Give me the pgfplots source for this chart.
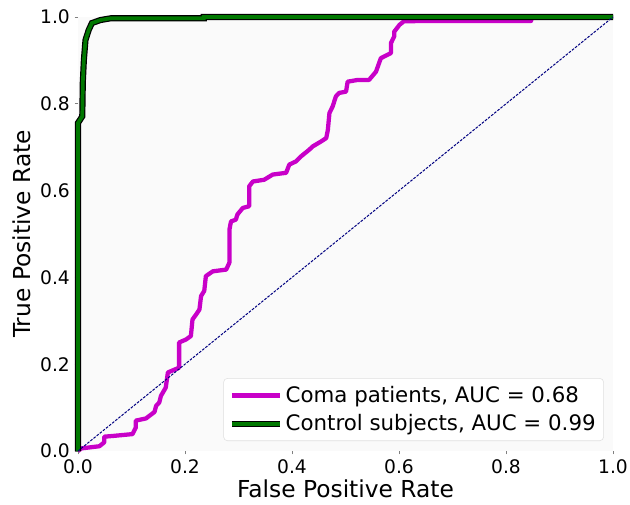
\documentclass[border=0pt]{standalone}
\usepackage{pgfplots}
\pgfplotsset{compat=1.18}
\usepackage{fontspec}
\setmainfont{DejaVu Sans}
\usetikzlibrary{calc}

\definecolor{roccoma}{RGB}{200,0,200}
\definecolor{roccontrol}{RGB}{0,120,0}
\definecolor{plotbg}{RGB}{250,250,250}
\definecolor{navy}{RGB}{0,0,128}

\begin{document}
\begin{tikzpicture}
\begin{axis}[
  name=ax,
  scale only axis,
  width=401.25pt, height=325.5pt,
  xmin=0, xmax=1, ymin=0, ymax=1,
  clip=false,
  axis background/.style={fill=plotbg},
  axis line style={draw=none},
  tick align=outside,
  tick pos=left,
  major tick length=2.6pt,
  tick style={gray, line width=0.6pt},
  xtick={0,0.2,0.4,0.6,0.8,1},
  ytick={0,0.2,0.4,0.6,0.8,1},
  /pgf/number format/assume math mode=true,
  xticklabel style={/pgf/number format/.cd, fixed, fixed zerofill, precision=1},
  yticklabel style={/pgf/number format/.cd, fixed, fixed zerofill, precision=1},
  tick label style={font=\fontsize{14}{16}\selectfont},
  xlabel={False Positive Rate},
  ylabel={True Positive Rate},
  label style={font=\fontsize{17.5}{20}\selectfont},
  xlabel style={at={(axis description cs:0.5,-0.108)}, anchor=base},
  ylabel style={at={(axis description cs:-0.1056,0.5)}, anchor=center},
  legend style={
    at={(rel axis cs:0.983,0.023)}, anchor=south east,
    font=\fontsize{16}{19}\selectfont,
    draw=gray!25, rounded corners=3pt, fill=white,
    cells={anchor=west}, row sep=3.5pt,
    inner xsep=4pt, inner ysep=4pt,
  },
  legend image code/.code={\draw[#1] (0pt,0pt) -- (36pt,0pt);},
]
% Coma patients
\addplot[roccoma, line width=3.2pt, line join=round] coordinates {
(0,0) (0.006,0.006) (0.040,0.011) (0.049,0.020) (0.049,0.033) (0.068,0.035)
(0.102,0.039) (0.108,0.054) (0.108,0.070) (0.127,0.075) (0.143,0.090)
(0.146,0.104) (0.152,0.112) (0.155,0.127) (0.164,0.146) (0.168,0.181)
(0.189,0.192) (0.189,0.250) (0.202,0.257) (0.211,0.265) (0.214,0.303)
(0.221,0.315) (0.227,0.326) (0.230,0.357) (0.236,0.369) (0.239,0.403)
(0.252,0.414) (0.277,0.418) (0.283,0.434) (0.283,0.510) (0.286,0.529)
(0.295,0.533) (0.298,0.545) (0.308,0.560) (0.320,0.564) (0.320,0.610)
(0.327,0.621) (0.348,0.625) (0.364,0.637) (0.389,0.641) (0.395,0.660)
(0.407,0.667) (0.417,0.679) (0.432,0.694) (0.439,0.702) (0.454,0.713)
(0.464,0.721) (0.467,0.740) (0.470,0.779) (0.476,0.794) (0.482,0.817)
(0.488,0.825) (0.501,0.828) (0.504,0.851) (0.523,0.855) (0.544,0.855)
(0.557,0.874) (0.566,0.905) (0.585,0.917) (0.585,0.940) (0.591,0.955)
(0.591,0.966) (0.601,0.982) (0.609,0.990) (0.650,0.991) (0.847,0.991)
(0.847,1.0) (1,1)
};
\addlegendentry{Coma patients, AUC = 0.68}
% Control subjects (black outline, then green)
\addplot[black, line width=4.6pt, forget plot] coordinates {
(0,0) (0,0.756) (0.008,0.771) (0.009,0.85) (0.011,0.901) (0.014,0.947)
(0.020,0.970) (0.026,0.986) (0.042,0.993) (0.061,0.997) (0.235,0.997)
(0.235,1.0) (1,1)
};
\addplot[roccontrol, line width=2.8pt,
  legend image code/.code={
    \draw[black, line width=4.6pt] (0pt,0pt) -- (36pt,0pt);
    \draw[roccontrol, line width=2.8pt] (0pt,0pt) -- (36pt,0pt);}
] coordinates {
(0,0) (0,0.756) (0.008,0.771) (0.009,0.85) (0.011,0.901) (0.014,0.947)
(0.020,0.970) (0.026,0.986) (0.042,0.993) (0.061,0.997) (0.235,0.997)
(0.235,1.0) (1,1)
};
\addlegendentry{Control subjects, AUC = 0.99}
% chance line
\addplot[navy, line width=0.75pt, dash pattern=on 2pt off 1pt, forget plot] coordinates {(0,0) (1,1)};
\end{axis}
\pgfresetboundingbox
\path ($(ax.south west)+(-58.5pt,-39.75pt)$) rectangle ($(ax.north east)+(12.75pt,12.75pt)$);
\end{tikzpicture}
\end{document}
